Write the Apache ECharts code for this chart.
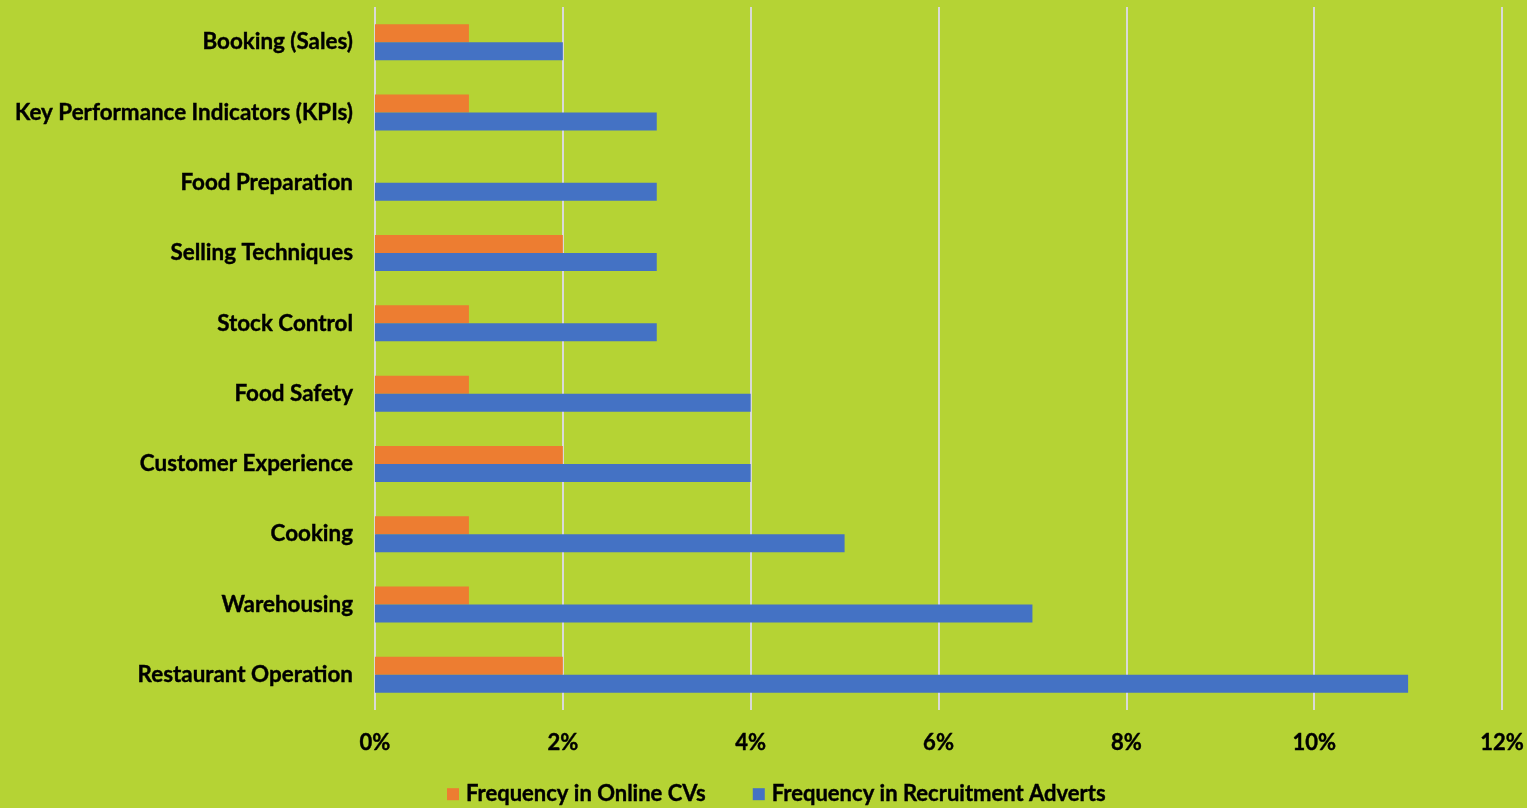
<!DOCTYPE html>
<html><head><meta charset="utf-8">
<script src="https://cdn.jsdelivr.net/npm/echarts@6/dist/echarts.min.js"></script>
<style>html,body{margin:0;padding:0;background:#b5d334;}#c{width:1527px;height:808px;}</style>
</head><body><div id="c"></div>
<script>
const categories = ["Restaurant Operation","Warehousing","Cooking","Customer Experience","Food Safety","Stock Control","Selling Techniques","Food Preparation","Key Performance Indicators (KPIs)","Booking (Sales)"];
const onlineCVs = [2,1,1,2,1,1,2,null,1,1];
const recruitmentAdverts = [11,7,5,4,4,3,3,3,3,2];
const seriesNames = ["Frequency in Online CVs","Frequency in Recruitment Adverts"];
const xTicks = {min:0,max:12,interval:2};

const font = "Lato";
const chart = echarts.init(document.getElementById('c'));
chart.setOption({
  backgroundColor:'#b5d334',
  animation:false,
  grid:{left:375,right:24,top:7,bottom:98,containLabel:false},
  legend:{top:778,left:442,itemWidth:12,itemHeight:12,itemGap:47,icon:'rect',
    textStyle:{fontFamily:font,fontWeight:'bold',fontSize:22,color:'#000',textBorderColor:'#000',textBorderWidth:0.4,padding:[0,0,0,2]},
    data:seriesNames},
  xAxis:{type:'value',min:xTicks.min,max:xTicks.max,interval:xTicks.interval,
    axisLine:{show:false},axisTick:{show:false},
    splitLine:{lineStyle:{color:'#d9d9d9',width:2}},
    axisLabel:{formatter:'{value}%',margin:22,fontFamily:font,fontWeight:'bold',fontSize:22,color:'#000',textBorderColor:'#000',textBorderWidth:0.4}},
  yAxis:{type:'category',data:categories,
    axisLine:{show:false},axisTick:{show:false},
    axisLabel:{margin:22,fontFamily:font,fontWeight:'bold',fontSize:22.4,color:'#000',textBorderColor:'#000',textBorderWidth:0.4}},
  series:[
    {name:seriesNames[0],type:'bar',data:onlineCVs,barWidth:18,barGap:'0%',itemStyle:{color:'#ed7d31'}},
    {name:seriesNames[1],type:'bar',data:recruitmentAdverts,barWidth:18,barGap:'0%',itemStyle:{color:'#4472c4'}}
  ]
});
</script></body></html>
